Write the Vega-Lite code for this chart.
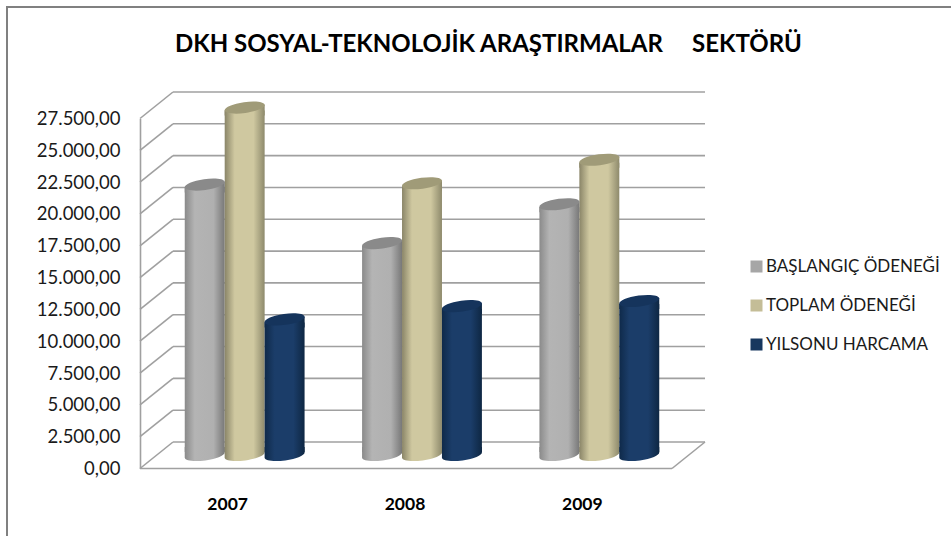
{
"$schema":"https://vega.github.io/schema/vega-lite/v6.json",
"width":960,"height":540,
"autosize":{"type":"none"},
"padding":{"left":7,"top":7,"right":0,"bottom":0},
"background":"white",
"title":{"text":"DKH SOSYAL-TEKNOLOJİK ARAŞTIRMALAR\u00a0\u00a0\u00a0\u00a0\u00a0SEKTÖRÜ","anchor":"start","frame":"group","font":"Lato","fontSize":24,"fontWeight":"bold","color":"#000000","dx":168,"offset":-50},
"config":{"view":{"stroke":"#808080","strokeWidth":2,"fill":"white"},"locale":{"number":{"decimal":",","thousands":".","grouping":[3],"currency":["",""]}}},
"datasets":{
"ticks":[{"value":0},{"value":2500},{"value":5000},{"value":7500},{"value":10000},{"value":12500},{"value":15000},{"value":17500},{"value":20000},{"value":22500},{"value":25000},{"value":27500}],
"bars":[
{"year":"2007","series":"BAŞLANGIÇ ÖDENEĞİ","value":21250},
{"year":"2007","series":"TOPLAM ÖDENEĞİ","value":27300},
{"year":"2007","series":"YILSONU HARCAMA","value":10650},
{"year":"2008","series":"BAŞLANGIÇ ÖDENEĞİ","value":16650},
{"year":"2008","series":"TOPLAM ÖDENEĞİ","value":21350},
{"year":"2008","series":"YILSONU HARCAMA","value":11700},
{"year":"2009","series":"BAŞLANGIÇ ÖDENEĞİ","value":19700},
{"year":"2009","series":"TOPLAM ÖDENEĞİ","value":23200},
{"year":"2009","series":"YILSONU HARCAMA","value":12100}
]},
"layer":[
{"data":{"name":"ticks"},"mark":{"type":"rule","color":"#a0a0a0","strokeWidth":1.6,"yOffset":-26.5},
 "encoding":{"x":{"datum":33,"type":"quantitative","scale":{"domain":[0,565],"range":[133,698]},"axis":null},"x2":{"datum":565},
 "y":{"field":"value","type":"quantitative","scale":{"domain":[0,27500],"nice":false,"zero":false,"range":[461.5,111.5]},"axis":{"values":[0,2500,5000,7500,10000,12500,15000,17500,20000,22500,25000,27500],"format":",.2f","title":null,"grid":false,"offset":-133,"domainColor":"#a0a0a0","domainWidth":1.6,"ticks":false,"labelFont":"Lato","labelFontSize":18.5,"labelColor":"#1a1a1a","labelPadding":20}}}},
{"data":{"name":"ticks"},"mark":{"type":"rule","color":"#a0a0a0","strokeWidth":1.6,"y2Offset":-26.5},
 "encoding":{"x":{"datum":0,"type":"quantitative","scale":{"domain":[0,565],"range":[133,698]},"axis":null},"x2":{"datum":33},
 "y":{"field":"value","type":"quantitative"},"y2":{"field":"value"}}},
{"data":{"values":[{"value":0}]},"mark":{"type":"rule","color":"#a0a0a0","strokeWidth":1.6,"y2Offset":-26.5},
 "encoding":{"x":{"datum":532,"type":"quantitative","scale":{"domain":[0,565],"range":[133,698]},"axis":null},"x2":{"datum":565},
 "y":{"field":"value","type":"quantitative"},"y2":{"field":"value"}}},
{"data":{"values":[{"value":0}]},"mark":{"type":"rule","color":"#a0a0a0","strokeWidth":1.6},
 "encoding":{"x":{"datum":0,"type":"quantitative","scale":{"domain":[0,565],"range":[133,698]},"axis":null},"x2":{"datum":532},
 "y":{"field":"value","type":"quantitative"}}},
{"data":{"name":"bars"},"mark":{"type":"point","filled":true,"opacity":1,"size":1600,"yOffset":-13.5,"shape":"M -1 -0.4 L 1 -0.4 L 1 -0.14 A 1 0.27 -8 1 1 -1 0.14 Z"},
 "encoding":{"x":{"field":"year","type":"nominal","scale":{"type":"band","domain":["2007","2008","2009"],"range":[149,681],"paddingInner":0,"paddingOuter":0},"axis":{"title":null,"labelAngle":0,"domain":false,"ticks":false,"offset":-78,"labelOffset":-17,"labelPadding":26,"labelFont":"Lato","labelFontSize":17.5,"labelFontWeight":"bold","labelColor":"#000000"}},
 "xOffset":{"field":"series","type":"nominal","scale":{"type":"band","domain":["BAŞLANGIÇ ÖDENEĞİ","TOPLAM ÖDENEĞİ","YILSONU HARCAMA"],"paddingInner":0,"paddingOuter":0.72}},
 "y":{"datum":0,"type":"quantitative"},
 "fill":{"condition":[{"test":"datum.series==='BAŞLANGIÇ ÖDENEĞİ'","value":{"gradient":"linear","x1":0,"y1":0,"x2":1,"y2":0,"stops":[{"offset":0,"color":"#8a8a8a"},{"offset":0.25,"color":"#b4b4b4"},{"offset":0.72,"color":"#b0b0b0"},{"offset":1,"color":"#787878"}]}},
  {"test":"datum.series==='TOPLAM ÖDENEĞİ'","value":{"gradient":"linear","x1":0,"y1":0,"x2":1,"y2":0,"stops":[{"offset":0,"color":"#8a8568"},{"offset":0.25,"color":"#cfc8a0"},{"offset":0.72,"color":"#cfc8a0"},{"offset":1,"color":"#8e8a6c"}]}}],
  "value":{"gradient":"linear","x1":0,"y1":0,"x2":1,"y2":0,"stops":[{"offset":0,"color":"#0f2a4a"},{"offset":0.25,"color":"#1b3d69"},{"offset":0.72,"color":"#1b3d69"},{"offset":1,"color":"#0e2743"}]}}}},
{"data":{"name":"bars"},"mark":{"type":"bar","yOffset":-10.5,"y2Offset":-16.5},
 "encoding":{"x":{"field":"year","type":"nominal","scale":{"type":"band","domain":["2007","2008","2009"],"range":[149,681],"paddingInner":0,"paddingOuter":0},"axis":null},
 "xOffset":{"field":"series","type":"nominal","scale":{"type":"band","domain":["BAŞLANGIÇ ÖDENEĞİ","TOPLAM ÖDENEĞİ","YILSONU HARCAMA"],"paddingInner":0,"paddingOuter":0.72}},
 "y":{"field":"value","type":"quantitative","stack":null},"y2":{"datum":0},
 "fill":{"condition":[{"test":"datum.series==='BAŞLANGIÇ ÖDENEĞİ'","value":{"gradient":"linear","x1":0,"y1":0,"x2":1,"y2":0,"stops":[{"offset":0,"color":"#8a8a8a"},{"offset":0.25,"color":"#b4b4b4"},{"offset":0.72,"color":"#b0b0b0"},{"offset":1,"color":"#787878"}]}},
  {"test":"datum.series==='TOPLAM ÖDENEĞİ'","value":{"gradient":"linear","x1":0,"y1":0,"x2":1,"y2":0,"stops":[{"offset":0,"color":"#8a8568"},{"offset":0.25,"color":"#cfc8a0"},{"offset":0.72,"color":"#cfc8a0"},{"offset":1,"color":"#8e8a6c"}]}}],
  "value":{"gradient":"linear","x1":0,"y1":0,"x2":1,"y2":0,"stops":[{"offset":0,"color":"#0f2a4a"},{"offset":0.25,"color":"#1b3d69"},{"offset":0.72,"color":"#1b3d69"},{"offset":1,"color":"#0e2743"}]}}}},
{"data":{"name":"bars"},"mark":{"type":"point","filled":true,"opacity":1,"size":1600,"yOffset":-13.5,"shape":"M -1 0.14 L 1 -0.14 L 1 0.4 L -1 0.4 Z"},
 "encoding":{"x":{"field":"year","type":"nominal","scale":{"type":"band","domain":["2007","2008","2009"],"range":[149,681],"paddingInner":0,"paddingOuter":0},"axis":null},
 "xOffset":{"field":"series","type":"nominal","scale":{"type":"band","domain":["BAŞLANGIÇ ÖDENEĞİ","TOPLAM ÖDENEĞİ","YILSONU HARCAMA"],"paddingInner":0,"paddingOuter":0.72}},
 "y":{"field":"value","type":"quantitative"},
 "fill":{"condition":[{"test":"datum.series==='BAŞLANGIÇ ÖDENEĞİ'","value":{"gradient":"linear","x1":0,"y1":0,"x2":1,"y2":0,"stops":[{"offset":0,"color":"#8a8a8a"},{"offset":0.25,"color":"#b4b4b4"},{"offset":0.72,"color":"#b0b0b0"},{"offset":1,"color":"#787878"}]}},
  {"test":"datum.series==='TOPLAM ÖDENEĞİ'","value":{"gradient":"linear","x1":0,"y1":0,"x2":1,"y2":0,"stops":[{"offset":0,"color":"#8a8568"},{"offset":0.25,"color":"#cfc8a0"},{"offset":0.72,"color":"#cfc8a0"},{"offset":1,"color":"#8e8a6c"}]}}],
  "value":{"gradient":"linear","x1":0,"y1":0,"x2":1,"y2":0,"stops":[{"offset":0,"color":"#0f2a4a"},{"offset":0.25,"color":"#1b3d69"},{"offset":0.72,"color":"#1b3d69"},{"offset":1,"color":"#0e2743"}]}}}},
{"data":{"name":"bars"},"mark":{"type":"point","filled":true,"opacity":1,"size":1600,"yOffset":-13.5,"shape":"M -1 0.14 A 1 0.27 -8 1 1 1 -0.14 A 1 0.27 -8 1 1 -1 0.14 Z"},
 "encoding":{"x":{"field":"year","type":"nominal","scale":{"type":"band","domain":["2007","2008","2009"],"range":[149,681],"paddingInner":0,"paddingOuter":0},"axis":null},
 "xOffset":{"field":"series","type":"nominal","scale":{"type":"band","domain":["BAŞLANGIÇ ÖDENEĞİ","TOPLAM ÖDENEĞİ","YILSONU HARCAMA"],"paddingInner":0,"paddingOuter":0.72}},
 "y":{"field":"value","type":"quantitative"},
 "fill":{"condition":[{"test":"datum.series==='BAŞLANGIÇ ÖDENEĞİ'","value":"#8a8a8a"},{"test":"datum.series==='TOPLAM ÖDENEĞİ'","value":"#a09b78"}],"value":"#15345c"}}},
{"data":{"name":"bars"},"mark":{"type":"point","filled":true,"opacity":1,"size":0},
 "encoding":{"x":{"field":"year","type":"nominal","scale":{"type":"band","domain":["2007","2008","2009"],"range":[149,681],"paddingInner":0,"paddingOuter":0},"axis":null},
 "y":{"field":"value","type":"quantitative"},
 "color":{"field":"series","type":"nominal","scale":{"domain":["BAŞLANGIÇ ÖDENEĞİ","TOPLAM ÖDENEĞİ","YILSONU HARCAMA"],"range":["#a6a6a6","#c4bd97","#17375e"]},
  "legend":{"title":null,"orient":"none","legendX":741,"legendY":251,"symbolType":"square","symbolSize":144,"symbolOpacity":1,"symbolStrokeWidth":0,"labelFont":"Lato","labelFontSize":17,"labelColor":"#1a1a1a","labelOffset":1,"rowPadding":21,"labelLimit":300}}}}
],
"resolve":{"scale":{"x":"independent","xOffset":"independent"}}
}
